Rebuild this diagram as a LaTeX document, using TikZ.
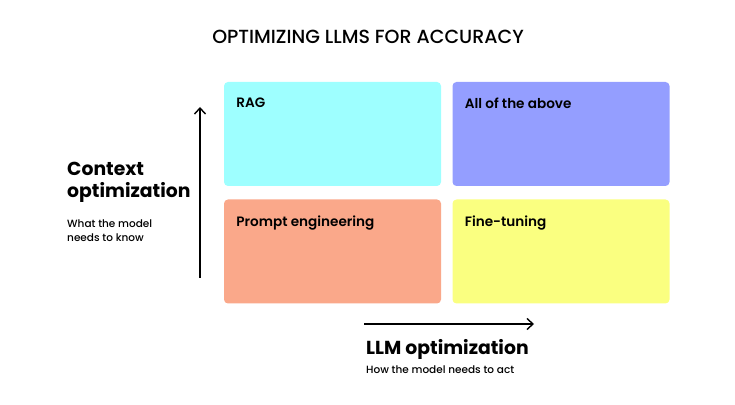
\documentclass[tikz,border=0pt]{standalone}
\usepackage{fontspec}
\setmainfont{Poppins}[BoldFont={Poppins SemiBold}]
\newfontfamily\titlefont{Poppins Medium}
\newfontfamily\headfont{Poppins Bold}
\usepackage{tikz}
\usetikzlibrary{arrows.meta}

\definecolor{ragcol}{HTML}{9EFFFF}
\definecolor{allcol}{HTML}{949EFF}
\definecolor{promptcol}{HTML}{FAA88A}
\definecolor{finecol}{HTML}{FAFF80}

\tikzset{
  quad/.style={rounded corners=4pt, minimum width=217pt, minimum height=104pt, inner sep=0pt},
  quadlabel/.style={anchor=north west, font=\fontsize{13.6}{16}\selectfont\bfseries},
  axis/.style={-{Straight Barb[length=6pt,width=11pt]}, line width=1.4pt},
  axistitle/.style={anchor=north west, align=left, inner sep=0pt, font=\headfont\fontsize{18.8}{22}\selectfont},
  axisnote/.style={anchor=north west, align=left, inner sep=0pt, font=\titlefont\fontsize{10.5}{13.5}\selectfont}
}

\begin{document}
\begin{tikzpicture}[x=1pt, y=1pt]
\useasboundingbox (0,0) rectangle (735,404);

% Title
\node (title) at (368,367) {\titlefont\fontsize{19}{22}\selectfont OPTIMIZING LLMS FOR ACCURACY};

% Quadrants
\node[quad, fill=ragcol] (rag) at (332.5,270) {};
\node[quad, fill=allcol] (all) at (561,270) {};
\node[quad, fill=promptcol] (prompt) at (332.5,152.5) {};
\node[quad, fill=finecol] (fine) at (561,152.5) {};

\node[quadlabel] at ([xshift=9pt,yshift=-13pt]rag.north west) {RAG};
\node[quadlabel] at ([xshift=9pt,yshift=-13pt]all.north west) {All of the above};
\node[quadlabel] at ([xshift=9pt,yshift=-13pt]prompt.north west) {Prompt engineering};
\node[quadlabel] at ([xshift=9pt,yshift=-13pt]fine.north west) {Fine-tuning};

% Axes
\coordinate (ybot) at (200,126);
\coordinate (ytop) at (200,297);
\draw[axis] (ybot) -- (ytop);
\coordinate (xleft) at (364,80);
\coordinate (xright) at (534,80);
\draw[axis] (xleft) -- (xright);

% Axis labels
\node[axistitle] (ctx) at (67,242) {Context\\optimization};
\node[axisnote] (ctxsub) at (67,184) {What the model\\needs to know};
\node[axistitle] (llm) at (366,65) {LLM optimization};
\node[axisnote] (llmsub) at (366,38) {How the model needs to act};

\end{tikzpicture}
\end{document}
